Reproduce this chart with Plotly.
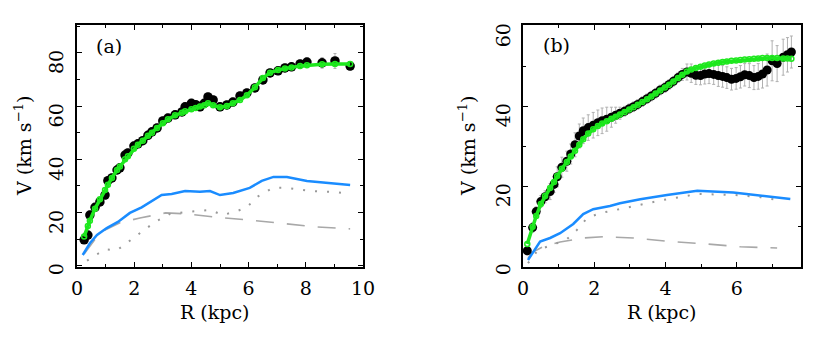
import plotly.graph_objects as go

# ---------------- Panel (a) ----------------
Ra = [0.25, 0.38, 0.45, 0.63, 0.8, 0.98, 1.08, 1.22, 1.4, 1.5, 1.68, 1.78, 1.99, 2.13, 2.3,
      2.48, 2.62, 2.8, 3.0, 3.18, 3.43, 3.67, 3.78, 4.0, 4.15, 4.3, 4.45, 4.58, 4.76, 5.0,
      5.24, 5.45, 5.7, 5.94, 6.22, 6.5, 6.75, 7.03, 7.27, 7.5, 7.8, 8.04, 8.57, 9.02, 9.55]
Va = [9.8, 11.6, 19.1, 22, 24, 26.6, 32, 33, 36, 36.8, 41.6, 42.4, 45, 45.8, 47,
      49, 50.3, 51.8, 54.4, 55.5, 56.7, 57.8, 59.7, 61, 60.5, 59.7, 61, 63.4, 62.3, 59.7,
      60.4, 61.5, 63.8, 64.9, 66.8, 69.8, 72.4, 73.2, 74.3, 74.7, 75.8, 76.5, 76.2, 76.9, 75.0]
Ea = [1.2, 1.2, 1.5, 1.5, 1.5, 1.5, 1.5, 1.5, 1.5, 1.5, 1.5, 1.5, 1.5, 1.5, 1.5,
      1.5, 1.5, 1.5, 1.5, 1.5, 1.5, 1.5, 1.5, 1.5, 1.5, 1.5, 1.5, 1.5, 1.5, 1.5,
      1.5, 1.5, 1.5, 1.5, 1.5, 1.5, 1.5, 1.5, 1.5, 1.5, 1.5, 1.5, 2.0, 2.8, 1.5]
Ma = [11, 15, 17, 21.5, 25, 28.5, 30.5, 33, 36, 37.3, 40, 41.2, 44, 45.5, 47,
      48.8, 50, 51.8, 53.5, 55, 56.5, 57.5, 58, 58.8, 59.3, 59.8, 60.3, 61, 60.3, 59.5,
      60, 61, 62.3, 64, 67, 70.5, 72.5, 73.5, 74.1, 74.5, 75, 75.3, 75.7, 75.8, 75.8]

Rba = [0.2, 0.45, 0.7, 1.04, 1.43, 1.85, 2.26, 2.67, 2.96, 3.31, 3.78, 4.3, 4.65, 5.0,
       5.46, 6.04, 6.46, 6.87, 7.34, 8.04, 8.95, 9.55]
Vba = [4.1, 8.5, 11.6, 14.2, 16.5, 19.9, 22, 24.8, 26.6, 27, 28.1, 27.8, 28.1, 26.6,
       27.4, 29.3, 31.9, 33.4, 33.4, 31.9, 31.1, 30.4]

Rda = [0.25, 0.7, 1.0, 1.5, 2.2, 3.1, 3.85, 4.76, 6.05, 7.1, 8.4, 9.55]
Vda = [4.5, 11, 13.6, 16.2, 18, 19.9, 19.5, 18.4, 17.2, 16.1, 14.6, 13.9]

Rga = [0.35, 0.63, 0.98, 1.4, 1.75, 2.1, 2.38, 2.73, 3.25, 3.85, 4.65, 5.1, 5.6, 5.94,
       6.3, 6.85, 7.34, 8.15, 8.95, 9.55]
Vga = [2.0, 4.0, 6.2, 5.9, 8.6, 11.6, 13.5, 16.5, 19.5, 20.3, 21, 19.1, 20.6, 22,
       25.9, 29.3, 29.3, 28.1, 27.8, 27]

# ---------------- Panel (b) ----------------
Rb = [0.12, 0.27, 0.37, 0.5, 0.62, 0.76, 0.87, 0.96, 1.09, 1.23, 1.34, 1.46, 1.58, 1.69,
      1.83, 1.97, 2.1, 2.22, 2.35, 2.48, 2.6, 2.72, 2.85, 2.98, 3.1, 3.22, 3.35, 3.48,
      3.6, 3.72, 3.85, 3.98, 4.1, 4.22, 4.35, 4.47, 4.6, 4.72, 4.85, 4.98, 5.1, 5.22,
      5.35, 5.48, 5.6, 5.72, 5.85, 5.98, 6.1, 6.22, 6.35, 6.48, 6.6, 6.72, 6.85, 6.99,
      7.13, 7.3, 7.42, 7.53]
Vb = [3.8, 9.6, 13.6, 16.1, 17.3, 18.6, 20.4, 22.3, 24.7, 26.2, 28, 30.3, 32.5, 33.8,
      34.6, 35.2, 35.8, 36.3, 36.7, 37.2, 37.7, 38.2, 38.7, 39.3, 39.8, 40.4, 41.1, 41.8,
      42.5, 43.2, 44, 44.6, 45.4, 46.2, 47.1, 47.9, 48.5, 48.2, 47.7, 47.6, 48.0, 48.1,
      47.9, 47.6, 47.4, 47.1, 46.7, 46.9, 47.3, 47.8, 47.6, 47.1, 47.4, 48.0, 49.0, 51.3,
      50.6, 52.2, 52.8, 53.5]
Eb = [1.0, 1.2, 1.2, 1.5, 1.5, 2.0, 2.0, 2.5, 2.5, 2.5, 2.5, 3.0, 3.0, 3.2,
      3.2, 3.2, 3.2, 3.2, 3.0, 2.5, 2.0, 1.5, 1.2, 1.2, 1.2, 1.2, 1.2, 1.2,
      1.2, 1.2, 1.2, 1.2, 1.2, 1.2, 1.2, 1.5, 2.0, 2.3, 2.3, 2.3, 2.5, 2.5,
      2.5, 2.7, 2.7, 2.7, 2.7, 2.7, 2.8, 2.8, 3.0, 3.0, 3.2, 3.5, 4.0, 5.0,
      4.5, 4.5, 4.3, 4.0]
Mb = [5.5, 9.8, 12.5, 15.5, 17.5, 19.5, 21, 22.5, 24.3, 26, 27.4, 28.8, 30.3, 31.7,
      33.1, 34.2, 35.0, 35.6, 36.2, 36.8, 37.3, 37.9, 38.5, 39.1, 39.7, 40.3, 41, 41.7,
      42.4, 43.1, 43.9, 44.6, 45.3, 46.1, 47, 47.8, 48.6, 49.1, 49.5, 49.8, 50.1, 50.4,
      50.6, 50.8, 51, 51.1, 51.3, 51.4, 51.5, 51.6, 51.7, 51.8, 51.9, 52, 52, 52,
      52, 51.9, 51.9, 51.8]

Rbb = [0.14, 0.48, 0.76, 1.04, 1.41, 1.69, 1.97, 2.44, 2.72, 3.29, 4.04, 4.5, 4.89,
       5.9, 6.57, 7.13, 7.5]
Vbb = [1.5, 6.1, 7, 8.2, 10.5, 13, 14.2, 15, 15.7, 16.7, 17.75, 18.3, 18.8,
       18.4, 17.75, 17.2, 16.75]

Rdb = [0.14, 0.28, 0.56, 1.04, 1.69, 2.25, 3.1, 4.04, 5.17, 6.1, 7.13]
Vdb = [2, 3.5, 4.8, 6, 7, 7.3, 7, 6.2, 5.5, 4.8, 4.5]

Rgb = [0.14, 0.42, 0.95, 1.23, 1.51, 1.8, 2.16, 3.0, 3.93, 4.9, 5.95, 6.66, 7.28]
Vgb = [0.7, 4, 5.7, 6.7, 9, 12, 13.2, 14.7, 16.5, 18, 17.75, 17.2, 16.3]

X_TICKS = [0, 2, 4, 6, 8, 10]
Y_TICKS_A = [0, 20, 40, 60, 80]
Y_TICKS_B = [0, 20, 40, 60]

GREEN = "#1ee81e"
BLUE = "#1a8cff"
GREY = "#a8a8a8"
FONT = "DejaVu Serif"

W, H = 831, 343


def px(x):
    return x / W


def py(y):
    return 1 - y / H


fig = go.Figure()


def add_panel(xa, ya, R, V, E, M, Rb_, Vb_, Rd_, Vd_, Rg_, Vg_, msize):
    fig.add_trace(go.Scatter(x=Rd_, y=Vd_, mode="lines", xaxis=xa, yaxis=ya,
                             line=dict(color=GREY, width=1.6, dash="18px,13px")))
    fig.add_trace(go.Scatter(x=Rg_, y=Vg_, mode="lines", xaxis=xa, yaxis=ya,
                             line=dict(color="#999999", width=2, dash="2px,10px")))
    fig.add_trace(go.Scatter(x=Rb_, y=Vb_, mode="lines", xaxis=xa, yaxis=ya,
                             line=dict(color=BLUE, width=2.5)))
    fig.add_trace(go.Scatter(x=R, y=V, mode="markers", xaxis=xa, yaxis=ya,
                             marker=dict(color="black", size=msize),
                             error_y=dict(type="data", array=E, color="#b0b0b0",
                                          thickness=1, width=1.5)))
    fig.add_trace(go.Scatter(x=R, y=M, mode="lines+markers", xaxis=xa, yaxis=ya,
                             line=dict(color=GREEN, width=3.5),
                             marker=dict(symbol="circle-open", color=GREEN, size=5,
                                         line=dict(width=1.5, color=GREEN))))


add_panel("x", "y", Ra, Va, Ea, Ma, Rba, Vba, Rda, Vda, Rga, Vga, 9.5)
add_panel("x2", "y2", Rb, Vb, Eb, Mb, Rbb, Vbb, Rdb, Vdb, Rgb, Vgb, 9)

axcommon = dict(showline=True, linecolor="black", linewidth=1.5, mirror="allticks",
                ticks="inside", ticklen=5, tickwidth=1.2, tickcolor="black",
                showgrid=False, zeroline=False, automargin=False,
                tickfont=dict(family=FONT, size=19, color="black"))

fig.update_layout(
    width=W, height=H, showlegend=False,
    paper_bgcolor="white", plot_bgcolor="white",
    margin=dict(l=0, r=0, t=0, b=0, pad=0, autoexpand=False),
    xaxis=dict(domain=[px(77), px(363)], range=[0, 10], tickvals=X_TICKS,
               ticklabelstandoff=3,
               minor=dict(dtick=1, ticklen=3, ticks="inside", tickcolor="black"),
               anchor="y", **axcommon),
    yaxis=dict(domain=[py(267), py(25)], range=[-0.4, 90.4], tickvals=Y_TICKS_A,
               tickangle=-89.9, ticklabelstandoff=18,
               minor=dict(dtick=10, ticklen=3, ticks="inside", tickcolor="black"),
               anchor="x", **axcommon),
    xaxis2=dict(domain=[px(523), px(801)], range=[0, 7.8], tickvals=X_TICKS[:4],
                ticklabelstandoff=3,
                minor=dict(dtick=1, ticklen=3, ticks="inside", tickcolor="black"),
                anchor="y2", **axcommon),
    yaxis2=dict(domain=[py(267), py(25)], range=[-0.25, 60.25], tickvals=Y_TICKS_B,
                tickangle=-89.9, ticklabelstandoff=17,
                minor=dict(dtick=10, ticklen=3, ticks="inside", tickcolor="black"),
                anchor="x2", **axcommon),
)

ann_font = dict(family=FONT, size=19, color="black")
annotations = [
    dict(text="R (kpc)", x=px(215), y=py(312)),
    dict(text="R (kpc)", x=px(662), y=py(312)),
    dict(text="V (km s<sup>\u22121</sup>)", x=px(23), y=py(146), textangle=-90),
    dict(text="V (km s<sup>\u22121</sup>)", x=px(467), y=py(146), textangle=-90),
    dict(text="(a)", x=px(109), y=py(46)),
    dict(text="(b)", x=px(556), y=py(45)),
]
for a in annotations:
    fig.add_annotation(xref="paper", yref="paper", showarrow=False, font=ann_font,
                       xanchor="center", yanchor="middle", **a)

fig.write_html("out.html", config={"displayModeBar": False},
               post_script="document.body.style.margin='0';")
